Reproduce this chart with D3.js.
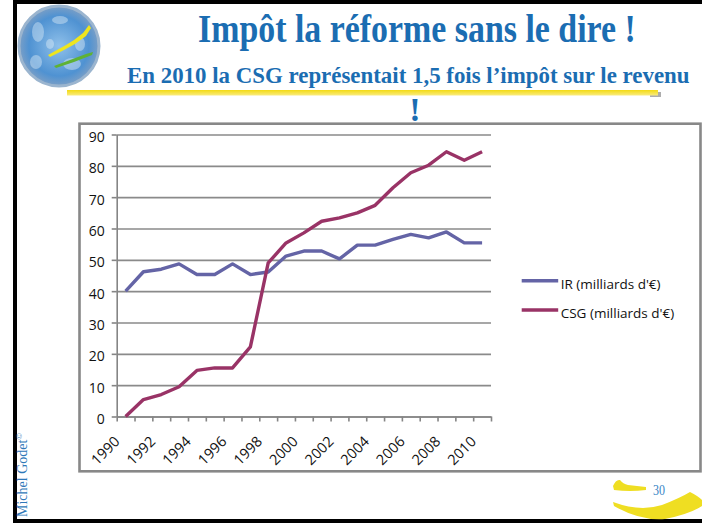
<!DOCTYPE html>
<html>
<head>
<meta charset="utf-8">
<script src="https://cdn.jsdelivr.net/npm/d3@7"></script>
<style>
  body { margin: 0; background: #fff; }
  svg { display: block; }
  .axis path, .axis line { stroke: #858585; }
  .axis text { font-family: "Open Sans", sans-serif; font-size: 14px; fill: #111; }
</style>
</head>
<body>
<svg id="slide" width="702" height="524"></svg>
<script>
// data
const years = ['1990', '1991', '1992', '1993', '1994', '1995', '1996', '1997', '1998', '1999', '2000',
               '2001', '2002', '2003', '2004', '2005', '2006', '2007', '2008', '2009', '2010'];
const labelYears = ['1990', '1992', '1994', '1996', '1998', '2000', '2002', '2004', '2006', '2008', '2010'];
const irValues = [40, 46.2, 47, 48.7, 45.3, 45.3, 48.7, 45.3, 46.1, 51.2, 52.8,
                  52.8, 50.3, 54.7, 54.7, 56.5, 58.1, 57.0, 58.9, 55.4, 55.4];
const csgValues = [0, 5.4, 7.0, 9.5, 14.7, 15.5, 15.5, 22.2, 49, 55.4, 58.6,
                   62.3, 63.4, 65, 67.4, 73, 77.8, 80.2, 84.5, 81.8, 84.5];
const yTicks = [0, 10, 20, 30, 40, 50, 60, 70, 80, 90];
const seriesNames = ["IR (milliards d'€)", "CSG (milliards d'€)"];
const seriesColors = ['#6464a6', '#993366'];

const titleText = 'Impôt la réforme sans le dire !';
const subtitleText = 'En 2010 la CSG représentait 1,5 fois l\u2019impôt sur le revenu';

const svg = d3.select('#slide');
const defs = svg.append('defs');

// condensed text: squeeze horizontally with a transform so it fits the width
function condensed(txt, x0, y0, width, size) {
    const t = svg.append('text')
        .style('font-family', '"Liberation Serif", serif').style('font-weight', 'bold')
        .style('font-size', size + 'px').style('fill', titleColor)
        .text(txt);
    const natural = t.node().getComputedTextLength();
    t.attr('transform', `translate(${x0},${y0}) scale(${width / natural},1)`);
    return t;
}

// ---- slide frame ----
svg.append('rect')
    .attr('x', 15).attr('y', 2).attr('width', 720).attr('height', 519)
    .attr('fill', '#fff').attr('stroke', '#000').attr('stroke-width', 4);

// logo (globe)
const grad = defs.append('radialGradient').attr('id', 'globe');
grad.append('stop').attr('offset', '0%').attr('stop-color', '#8fc0ea');
grad.append('stop').attr('offset', '75%').attr('stop-color', '#4f92d2');
grad.append('stop').attr('offset', '100%').attr('stop-color', '#7b9fc6');
const logo = svg.append('g');
logo.append('circle').attr('cx', 59).attr('cy', 46).attr('r', 40)
    .attr('fill', 'url(#globe)').attr('stroke', '#9bb5cf').attr('stroke-width', 3);
[[38, 32, 6, 10], [72, 64, 9, 6], [36, 62, 6, 7], [60, 20, 8, 4], [80, 44, 5, 7], [50, 44, 4, 5]].forEach(e => {
    logo.append('ellipse').attr('cx', e[0]).attr('cy', e[1]).attr('rx', e[2]).attr('ry', e[3])
        .attr('fill', '#dbeaf7').attr('opacity', 0.45);
});
logo.append('path').attr('d', 'M48,55 L66,45 L74,40 L83,33 L89,25 L91,28 L86,36 L75,44 L64,50 L50,57 Z')
    .attr('fill', '#eee51e');
logo.append('path').attr('d', 'M54,66 L70,60 L86,54 L93,52 L92,55 L74,62 L56,68 Z')
    .attr('fill', '#5fb234');

// yellow rule under subtitle (drawn first so the text sits on top)
const yel = defs.append('linearGradient').attr('id', 'yel').attr('x1', 0).attr('x2', 0).attr('y1', 0).attr('y2', 1);
yel.append('stop').attr('offset', '0%').attr('stop-color', '#f3da12');
yel.append('stop').attr('offset', '100%').attr('stop-color', '#faec80');
svg.append('rect').attr('x', 650).attr('y', 92).attr('width', 11).attr('height', 5)
    .attr('fill', '#777').attr('opacity', 0.6);
svg.append('rect').attr('x', 67).attr('y', 90).attr('width', 591).attr('height', 5.5)
    .attr('fill', 'url(#yel)');

// titles
const titleColor = '#1b6db2';
condensed(titleText, 198, 42, 438, 39);
condensed(subtitleText, 127, 83, 563, 24);

svg.append('text')
    .attr('x', 415).attr('y', 121).attr('text-anchor', 'middle')
    .style('font-family', '"Liberation Serif", serif').style('font-weight', 'bold')
    .style('font-size', '34px').style('fill', titleColor)
    .text('!');

// ---- chart box ----
svg.append('rect')
    .attr('x', 79.5).attr('y', 123.7).attr('width', 621).attr('height', 347.6)
    .attr('fill', '#fff').attr('stroke', '#888').attr('stroke-width', 2.6);

const plotLeft = 116.7, plotRight = 491, plotTop = 134.5, plotBottom = 416.5;

const x = d3.scaleBand().domain(years).range([plotLeft, plotRight]);
const xEdge = d3.scaleLinear().domain([0, years.length]).range([plotLeft, plotRight]);
const y = d3.scaleLinear().domain([0, 90]).range([plotBottom, plotTop]);
const cx = d => x(d) + x.bandwidth() / 2;

// gridlines
svg.append('g')
    .attr('transform', `translate(${plotLeft},0)`)
    .call(d3.axisLeft(y).tickValues(yTicks).tickSize(-(plotRight - plotLeft)).tickFormat(''))
    .call(g => g.select('.domain').remove())
    .call(g => g.selectAll('line').attr('stroke', '#8a8a8a').attr('stroke-width', 1.6));

// y axis
svg.append('g')
    .attr('class', 'axis')
    .attr('transform', `translate(${plotLeft},0)`)
    .call(d3.axisLeft(y).tickValues(yTicks).tickSize(5).tickSizeOuter(0).tickPadding(7))
    .call(g => g.selectAll('path, line').attr('stroke-width', 1.6))
    .call(g => g.selectAll('text').attr('dy', '0.5em'));

// x axis (ticks on category edges)
svg.append('g')
    .attr('class', 'axis')
    .attr('transform', `translate(0,${plotBottom})`)
    .call(d3.axisBottom(xEdge).tickValues(d3.range(years.length + 1)).tickSize(5).tickSizeOuter(0).tickFormat(''))
    .call(g => g.selectAll('path, line').attr('stroke-width', 1.6));

// x labels, rotated
svg.append('g')
    .attr('class', 'axis')
    .attr('transform', `translate(0,${plotBottom})`)
    .call(d3.axisBottom(x).tickValues(labelYears).tickSize(0))
    .call(g => g.select('.domain').remove())
    .call(g => g.selectAll('text')
        .style('font-size', '14.5px')
        .attr('x', -5).attr('y', 26).attr('dy', 0)
        .attr('text-anchor', 'end')
        .attr('transform', 'rotate(-45 -5 26)'));

// lines
const series = [irValues, csgValues];
const line = d3.line()
    .x((d, i) => cx(years[i]))
    .y(d => y(d));

svg.append('g').selectAll('path')
    .data(series)
    .join('path')
    .attr('d', line)
    .attr('fill', 'none')
    .attr('stroke', (d, i) => seriesColors[i])
    .attr('stroke-width', 3.4)
    .attr('stroke-linejoin', 'round');

// legend
const legend = svg.append('g').selectAll('g')
    .data(seriesNames)
    .join('g')
    .attr('transform', (d, i) => `translate(521.7,${280.7 + i * 29.3})`);
legend.append('line')
    .attr('x1', 0).attr('x2', 36.5)
    .attr('stroke', (d, i) => seriesColors[i]).attr('stroke-width', 3.4);
legend.append('text')
    .attr('x', 39).attr('y', 8)
    .style('font-family', '"Open Sans", sans-serif').style('font-size', '13.5px').style('fill', '#111')
    .text(d => d);

// ---- footer ----
svg.append('text')
    .attr('transform', 'translate(27,517) rotate(-90)')
    .style('font-family', '"Liberation Serif", serif').style('font-size', '14px').style('fill', '#2f78b8')
    .text('Michel Godet')
    .append('tspan').attr('dy', -5).style('font-size', '9px').text('©');

svg.append('path')
    .attr('d', 'M613,486 Q616,479 620,480 Q623,484 628,485 L646,487 L646,490 Q630,492 614,490 Z')
    .attr('fill', '#efde22');
svg.append('path')
    .attr('d', 'M613,502 Q640,512 662,505 Q680,498 690,492 Q698,496 702,500 L702,506 Q690,514 665,519 Q640,521 614,506 Z')
    .attr('fill', '#efde22');
svg.append('text')
    .attr('x', 653).attr('y', 495)
    .attr('textLength', 12).attr('lengthAdjust', 'spacingAndGlyphs')
    .style('font-family', '"Liberation Serif", serif').style('font-size', '14px').style('fill', '#3b86c6')
    .text('30');
</script>
</body>
</html>
